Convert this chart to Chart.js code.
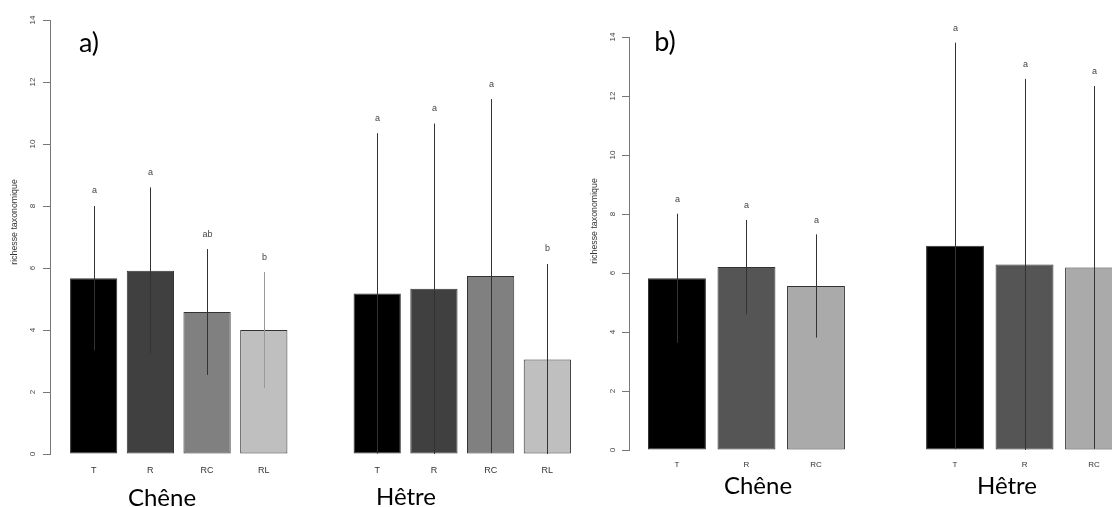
<!DOCTYPE html>
<html>
<head>
<meta charset="utf-8">
<script src="https://cdn.jsdelivr.net/npm/chart.js@4"></script>
<style>
  html, body { margin: 0; padding: 0; background: #fff; overflow: hidden; }
  #page { position: relative; width: 1112px; height: 507px; overflow: hidden; }
  canvas { position: absolute; top: 0; }
  #panelA { left: 0; }
  #panelB { left: 570px; }
  .lab { position: absolute; font-family: Lato, "Open Sans", sans-serif; color: #000;
         white-space: nowrap; line-height: 1; transform: translate(-50%, -50%); }
</style>
</head>
<body>
<div id="page">
  <canvas id="panelA" width="600" height="507"></canvas>
  <canvas id="panelB" width="580" height="507"></canvas>
  <div class="lab" style="left:89px; top:41px; font-size:27px;">a)</div>
  <div class="lab" style="left:665px; top:40px; font-size:27px;">b)</div>
  <div class="lab" style="left:162px; top:497px; font-size:24px;">Chêne</div>
  <div class="lab" style="left:406px; top:496px; font-size:24px;">Hêtre</div>
  <div class="lab" style="left:758px; top:485px; font-size:24px;">Chêne</div>
  <div class="lab" style="left:1007px; top:485px; font-size:24px;">Hêtre</div>
</div>
<script>
const treatA = ["T", "R", "RC", "RL"];
const treatB = ["T", "R", "RC"];
const yTicks = [0, 2, 4, 6, 8, 10, 12, 14];

// a) moyenne +/- ecart-type
const chenA = [5.67, 5.91, 4.58, 4.00];
const chenA_sd = [2.33, 2.69, 2.03, 1.87];
const chenA_let = ["a", "a", "ab", "b"];
const hetreA = [5.18, 5.33, 5.74, 3.05];
const hetreA_sd = [5.17, 5.33, 5.71, 3.08];
const hetreA_let = ["a", "a", "a", "b"];

// b)
const chenB = [5.82, 6.20, 5.56];
const chenB_sd = [2.19, 1.60, 1.75];
const chenB_let = ["a", "a", "a"];
const hetreB = [6.92, 6.29, 6.19];
const hetreB_sd = [6.89, 6.29, 6.15];
const hetreB_let = ["a", "a", "a"];

const FONT = '"Liberation Sans", Arial, sans-serif';

// rotated y title
const yTitlePlugin = {
  id: "yTitle",
  afterDraw(chart, args, o) {
    const ctx = chart.ctx;
    ctx.save();
    ctx.translate(o.x, o.y);
    ctx.rotate(-Math.PI / 2);
    ctx.font = o.size + "px " + FONT;
    ctx.fillStyle = "#333";
    ctx.textAlign = "center";
    ctx.textBaseline = "middle";
    ctx.fillText(o.text, 0, 0);
    ctx.restore();
  }
};

function makePanel(id, treat, groups, opt) {
  const n = treat.length;
  const pos = [], means = [], errs = [], labels = [], fills = [];
  groups.forEach((g, gi) => {
    g.mean.forEach((m, i) => {
      const x = gi * (n + 1) + i;
      pos.push(x);
      labels.push(treat[i]);
      fills.push(opt.colors[i]);
      means.push({ x: x, y: m });
      errs.push({
        x: x,
        lo: Math.max(0, m - g.sd[i]),
        hi: m + g.sd[i],
        letter: g.letters[i],
        color: opt.errColors[gi][i]
      });
    });
  });

  // y axis line, error bars (mean +/- sd) and letters, drawn on the chart scales
  const errPlugin = {
    id: "errBars",
    afterDatasetsDraw(chart) {
      const ctx = chart.ctx;
      const xs = chart.scales.x, ys = chart.scales.y;
      ctx.save();
      ctx.lineWidth = 1;
      const ax = Math.round(ys.right) + 0.5;
      ctx.strokeStyle = "#777";
      ctx.beginPath();
      ctx.moveTo(ax, ys.getPixelForValue(yTicks[0]));
      ctx.lineTo(ax, ys.getPixelForValue(yTicks[yTicks.length - 1]));
      ctx.stroke();

      ctx.font = "9px " + FONT;
      ctx.textAlign = "center";
      ctx.textBaseline = "middle";
      errs.forEach(e => {
        const px = Math.round(xs.getPixelForValue(e.x)) + 0.5;
        const top = ys.getPixelForValue(e.hi);
        ctx.strokeStyle = e.color;
        ctx.beginPath();
        ctx.moveTo(px, ys.getPixelForValue(e.lo));
        ctx.lineTo(px, top);
        ctx.stroke();
        ctx.fillStyle = "#444";
        ctx.fillText(e.letter, px, top - opt.letterGap);
      });
      ctx.restore();
    }
  };

  new Chart(document.getElementById(id), {
    type: "bar",
    data: {
      datasets: [
        {
          data: means,
          backgroundColor: fills,
          borderColor: "#333",
          borderWidth: 1,
          borderSkipped: false,
          barPercentage: 0.833,
          categoryPercentage: 1
        }
      ]
    },
    options: {
      responsive: false,
      animation: false,
      layout: { padding: { top: opt.top, right: opt.padRight, left: 0, bottom: 0 } },
      plugins: {
        legend: { display: false },
        tooltip: { enabled: false },
        yTitle: { text: "richesse taxonomique", x: opt.titleX, y: opt.titleY, size: 8.8 }
      },
      scales: {
        x: {
          type: "linear",
          offset: false,
          min: opt.min,
          max: opt.max,
          afterBuildTicks: s => { s.ticks = pos.map(v => ({ value: v })); },
          afterFit: s => { s.height = opt.xH; s.paddingLeft = 0; s.paddingRight = 0; },
          grid: { display: false, drawTicks: false },
          border: { display: false },
          ticks: {
            autoSkip: false,
            maxRotation: 0,
            padding: opt.xPad,
            color: "#333",
            font: { size: opt.xFont, family: FONT },
            callback: (v, i) => labels[i]
          }
        },
        y: {
          position: "left",
          min: 0,
          max: 14,
          afterBuildTicks: s => { s.ticks = yTicks.map(v => ({ value: v })); },
          afterFit: s => { s.width = opt.yWidth; s.paddingTop = 0; s.paddingBottom = 0; },
          grid: { display: true, drawOnChartArea: false, drawTicks: true, tickLength: 7, color: "#777", lineWidth: 1 },
          border: { display: true, color: "#777", width: 1 },
          ticks: {
            minRotation: 90,
            maxRotation: 90,
            crossAlign: "center",
            padding: opt.tickPad,
            color: "#444",
            font: { size: 8, family: FONT }
          }
        }
      }
    },
    plugins: [errPlugin, yTitlePlugin]
  });
}

makePanel("panelA", treatA, [
  { mean: chenA, sd: chenA_sd, letters: chenA_let },
  { mean: hetreA, sd: hetreA_sd, letters: hetreA_let }
], {
  colors: ["#000000", "#404040", "#808080", "#bfbfbf"],
  errColors: [["#333", "#333", "#333", "#999"], ["#333", "#333", "#333", "#333"]],
  top: 20, padRight: 9, xH: 53, yWidth: 50,
  min: -0.77, max: 8.77,
  xPad: 11, xFont: 9, tickPad: 5.5,
  titleX: 14.5, titleY: 222, letterGap: 15
});

makePanel("panelB", treatB, [
  { mean: chenB, sd: chenB_sd, letters: chenB_let },
  { mean: hetreB, sd: hetreB_sd, letters: hetreB_let }
], {
  colors: ["#000000", "#555555", "#aaaaaa"],
  errColors: [["#333", "#333", "#333"], ["#333", "#333", "#333"]],
  top: 37, padRight: 8, xH: 57, yWidth: 59,
  min: -0.69, max: 6.69,
  xPad: 10, xFont: 8, tickPad: 4.5,
  titleX: 25, titleY: 221, letterGap: 14
});
</script>
</body>
</html>
